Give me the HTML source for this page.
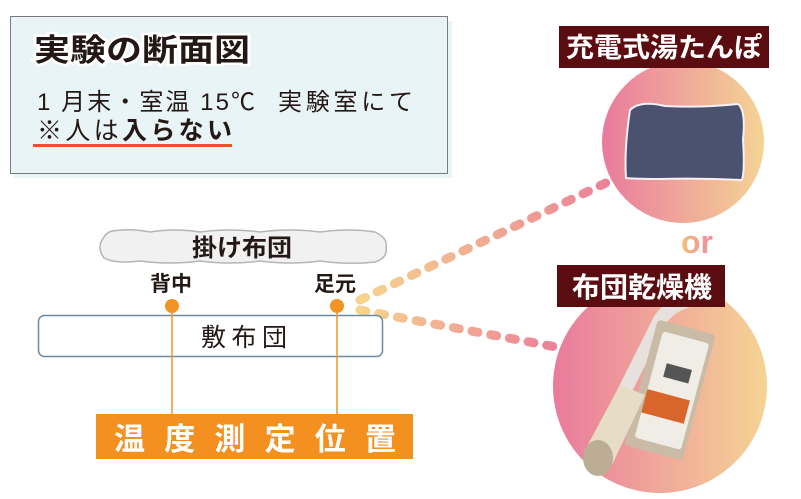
<!DOCTYPE html>
<html><head><meta charset="utf-8"><style>
html,body{margin:0;padding:0;background:#fff;}
body{width:801px;height:499px;overflow:hidden;position:relative;font-family:"Liberation Sans","Noto Sans CJK JP",sans-serif;}
svg{position:absolute;left:0;top:0}
</style></head><body>
<svg width="801" height="499" viewBox="0 0 801 499" xmlns="http://www.w3.org/2000/svg" font-family="Liberation Sans,Noto Sans CJK JP,sans-serif">
<defs>
<linearGradient id="cg" x1="0" x2="1" y1="0" y2="0">
<stop offset="0" stop-color="#e97a9c"/><stop offset="0.5" stop-color="#f0a89a"/><stop offset="1" stop-color="#f4d494"/>
</linearGradient>
<linearGradient id="dg1" gradientUnits="userSpaceOnUse" x1="360" y1="300" x2="612" y2="180">
<stop offset="0" stop-color="#f6d48e"/><stop offset="1" stop-color="#ec8098"/>
</linearGradient>
<linearGradient id="dg2" gradientUnits="userSpaceOnUse" x1="360" y1="310" x2="556" y2="347">
<stop offset="0" stop-color="#f6d48e"/><stop offset="1" stop-color="#ec8098"/>
</linearGradient>
<linearGradient id="org" x1="0" x2="1"><stop offset="0" stop-color="#f4c07a"/><stop offset="1" stop-color="#ee8aa0"/></linearGradient>
</defs>
<rect x="14" y="21" width="438" height="157" fill="#e8f4f5"/>
<rect x="10.5" y="16.5" width="437" height="157" fill="#e8f4f5" stroke="#7a7a7a" stroke-width="1"/>
<text x="34" y="61" font-size="31" font-weight="bold" fill="#231815" stroke="#fff" stroke-width="5" paint-order="stroke" textLength="216" lengthAdjust="spacingAndGlyphs">実験の断面図</text>
<text x="37" y="110" font-size="24" fill="#231815" textLength="218" lengthAdjust="spacing">1 月末・室温 15℃</text>
<text x="278" y="110" font-size="24" fill="#231815" textLength="135" lengthAdjust="spacing">実験室にて</text>
<text x="37" y="139" font-size="25" fill="#231815" textLength="195" lengthAdjust="spacing">※人は<tspan font-weight="bold">入らない</tspan></text>
<rect x="33" y="144" width="199" height="3" fill="#e8522a"/>
<circle cx="683" cy="142" r="81" fill="url(#cg)"/>
<circle cx="660" cy="386" r="107" fill="url(#cg)"/>
<path d="M630 110 Q640 100 665 106 Q700 108 738 104 Q746 110 743 140 Q745 170 742 180 Q700 178 660 179 Q635 179 626 178 Q624 150 630 110Z" fill="#4a5270" stroke="#f4f0f4" stroke-width="2"/>
<path d="M600 440 Q640 360 660 320 Q670 305 690 300" stroke="#e6e1dc" stroke-width="14" fill="none"/>
<rect x="640" y="325" width="60" height="130" rx="4" transform="rotate(15 670 390)" fill="#c9bba5"/>
<rect x="648" y="335" width="48" height="110" rx="3" transform="rotate(15 670 390)" fill="#f0ece6"/>
<rect x="660" y="365" width="26" height="14" transform="rotate(15 670 390)" fill="#555"/>
<rect x="648" y="395" width="44" height="24" transform="rotate(15 670 390)" fill="#d8652a"/>
<path d="M585 450 L620 385 L645 395 L612 465Z" fill="#e7dcc6"/>
<ellipse cx="598" cy="458" rx="15" ry="18" fill="#bcae94"/>
<line x1="360" y1="300" x2="612" y2="180" stroke="url(#dg1)" stroke-width="9" stroke-linecap="round" stroke-dasharray="6 13"/>
<line x1="360" y1="310" x2="556" y2="347" stroke="url(#dg2)" stroke-width="9" stroke-linecap="round" stroke-dasharray="6 13"/>
<rect x="559" y="26" width="210" height="42" fill="#5a0c10"/>
<text x="566" y="57" font-size="27" font-weight="bold" fill="#fff" textLength="196" lengthAdjust="spacingAndGlyphs">充電式湯たんぽ</text>
<rect x="557" y="265" width="168" height="42" fill="#5a0c10"/>
<text x="572" y="297" font-size="28" font-weight="bold" fill="#fff" textLength="140" lengthAdjust="spacingAndGlyphs">布団乾燥機</text>
<text x="697" y="253" text-anchor="middle" font-size="32" font-weight="bold" fill="url(#org)" font-family="Liberation Sans,sans-serif">or</text>
<path d="M112 231 Q130 228 150 232 Q175 228 200 232 Q230 228 260 232 Q290 228 320 232 Q350 228 375 232 Q388 238 386 247 Q388 258 375 262 Q350 265 320 261 Q290 265 260 261 Q230 265 200 261 Q170 265 140 261 Q115 264 104 258 Q96 247 104 237 Q106 233 112 231Z" fill="#f2f1f1" stroke="#b5b5b5" stroke-width="1.5"/>
<text x="192" y="256" font-size="24" font-weight="bold" fill="#231815" textLength="100" lengthAdjust="spacingAndGlyphs">掛け布団</text>
<text x="171" y="291" text-anchor="middle" font-size="21" font-weight="bold" fill="#231815">背中</text>
<text x="335" y="291" text-anchor="middle" font-size="21" font-weight="bold" fill="#231815">足元</text>
<rect x="38.5" y="315.5" width="344" height="41" rx="6" fill="#fff" stroke="#6d8aa3" stroke-width="1.5"/>
<text x="201" y="346" font-size="25" fill="#231815" textLength="86" lengthAdjust="spacing">敷布団</text>
<line x1="172" y1="306" x2="172" y2="415" stroke="#f29425" stroke-width="1.5"/>
<line x1="337" y1="306" x2="337" y2="415" stroke="#f29425" stroke-width="1.5"/>
<circle cx="172" cy="306" r="7" fill="#f29425"/>
<circle cx="337" cy="306" r="7" fill="#f29425"/>
<rect x="96" y="414" width="317" height="45" fill="#f39020"/>
<text x="114" y="450" font-size="31" font-weight="bold" fill="#fff" textLength="282" lengthAdjust="spacing">温度測定位置</text>
</svg>
</body></html>
